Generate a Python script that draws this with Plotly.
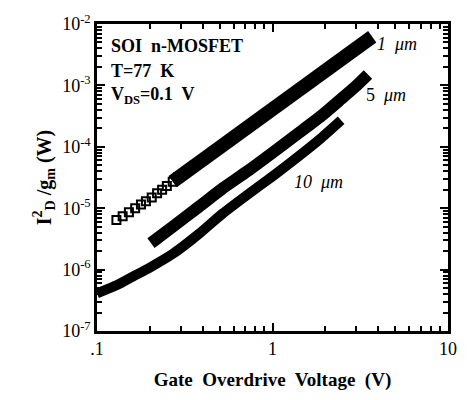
import plotly.graph_objects as go

# 1 um channel: open-square points at low end, then dense (solid) band
v1_open = [0.129, 0.14, 0.152, 0.165, 0.178, 0.19, 0.205, 0.22, 0.235, 0.25, 0.27, 0.29]
y1_open = [6.4e-6, 7.4e-6, 8.6e-6, 1.0e-5, 1.15e-5, 1.3e-5, 1.5e-5, 1.75e-5, 2.0e-5, 2.3e-5, 2.7e-5, 3.2e-5]
v1 = [0.27, 0.38, 0.52, 0.72, 1.0, 1.38, 1.9, 2.46, 3.0, 3.7]
y1 = [2.7e-5, 5.6e-5, 1.1e-4, 2.2e-4, 4.4e-4, 8.9e-4, 1.75e-3, 2.95e-3, 4.3e-3, 6.2e-3]

# 5 um channel
v5 = [0.203, 0.27, 0.38, 0.52, 0.72, 1.0, 1.38, 1.9, 2.46, 3.0, 3.5]
y5 = [2.7e-6, 5.0e-6, 1.05e-5, 2.1e-5, 4.0e-5, 8.0e-5, 1.6e-4, 3.2e-4, 6.0e-4, 9.8e-4, 1.5e-3]

# 10 um channel
v10 = [0.1, 0.13, 0.16, 0.2, 0.27, 0.38, 0.52, 0.72, 1.0, 1.38, 1.9, 2.46]
y10 = [4.1e-7, 5.6e-7, 7.7e-7, 1.08e-6, 1.8e-6, 3.8e-6, 8.2e-6, 1.66e-5, 3.3e-5, 6.7e-5, 1.4e-4, 2.7e-4]

xticks = [0.1, 1, 10]
xtick_text = [".1", "1", "10"]
yticks = [1e-7, 1e-6, 1e-5, 1e-4, 1e-3, 1e-2]
ytick_text = ["10<sup>-7</sup>", "10<sup>-6</sup>", "10<sup>-5</sup>", "10<sup>-4</sup>",
              "10<sup>-3</sup>", "10<sup>-2</sup>"]

FONT = "Liberation Serif"

fig = go.Figure()
fig.add_trace(go.Scatter(x=v1_open, y=y1_open, mode="markers",
                         marker=dict(symbol="square-open", size=8, color="black",
                                     line=dict(width=2, color="black")),
                         showlegend=False))
fig.add_trace(go.Scatter(x=v1, y=y1, mode="lines",
                         line=dict(color="black", width=14), showlegend=False))
fig.add_trace(go.Scatter(x=v5, y=y5, mode="lines",
                         line=dict(color="black", width=12, shape="spline", smoothing=0.6),
                         showlegend=False))
fig.add_trace(go.Scatter(x=v10, y=y10, mode="lines",
                         line=dict(color="black", width=10, shape="spline", smoothing=0.6),
                         showlegend=False))

minor_x = [m * 10.0 ** e for e in (-1, 0) for m in range(2, 10)]
minor_y = [m * 10.0 ** e for e in range(-7, -2) for m in range(2, 10)]

axis_common = dict(showline=True, linecolor="black", linewidth=2.5, mirror="ticks",
                   ticks="inside", ticklen=8, tickwidth=2, tickcolor="black",
                   showgrid=False, zeroline=False,
                   tickfont=dict(family=FONT, size=18, color="black"))

fig.update_xaxes(type="log", range=[-1, 1], tickmode="array", tickvals=xticks,
                 ticktext=xtick_text,
                 minor=dict(tickmode="array", tickvals=minor_x, ticks="inside",
                            ticklen=5, tickwidth=1.5, tickcolor="black"),
                 title=dict(text="<b>Gate  Overdrive  Voltage  (V)</b>",
                            font=dict(family=FONT, size=19, color="black"), standoff=15),
                 **axis_common)
fig.update_yaxes(type="log", range=[-7, -2], tickmode="array", tickvals=yticks,
                 ticktext=ytick_text,
                 minor=dict(tickmode="array", tickvals=minor_y, ticks="inside",
                            ticklen=5, tickwidth=1.5, tickcolor="black"),
                 title=dict(text="<b>I<sup>2</sup><sub>D</sub> /g<sub>m</sub> (W)</b>",
                            font=dict(family=FONT, size=20, color="black"), standoff=6),
                 **axis_common)


def px2x(px):
    return -1 + (px - 97) / 179.0


def px2y(py):
    return -2 - (py - 22) / 62.6


tfont = dict(family=FONT, size=18, color="black")
ann = [
    ("<b>SOI  n-MOSFET</b>", 109, 44, "left"),
    ("<b>T=77  K</b>", 109, 70, "left"),
    ("<b>V<sub>DS</sub>=0.1  V</b>", 109, 95, "left"),
    ("<i>1  μm</i>", 381, 42, "left"),
    ("5  <i>μm</i>", 369, 94, "left"),
    ("<i>10  μm</i>", 296, 183, "left"),
]
for txt, px, py, anc in ann:
    fig.add_annotation(x=px2x(px), y=px2y(py), text=txt, showarrow=False,
                       xanchor=anc, yanchor="middle", font=tfont)

fig.update_layout(width=469, height=400, margin=dict(l=97, r=12, t=22, b=63),
                  paper_bgcolor="white", plot_bgcolor="white")

fig.write_html("out.html")
